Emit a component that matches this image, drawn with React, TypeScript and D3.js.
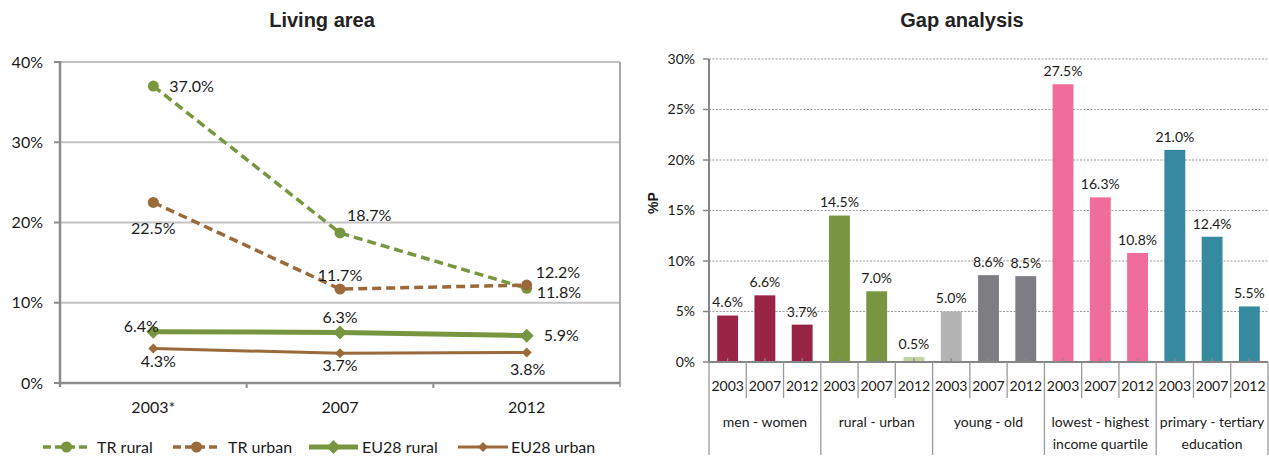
import React, { useEffect, useRef } from 'react';
import * as d3 from 'd3';

const W = 1269;
const H = 458;

// Living area (line chart)
const years = ['2003*', '2007', '2012'];
const trRural = [37.0, 18.7, 11.8];
const trUrban = [22.5, 11.7, 12.2];
const euRural = [6.4, 6.3, 5.9];
const euUrban = [4.3, 3.7, 3.8];
const lineTicks = [0, 10, 20, 30, 40];

// Gap analysis (bar chart)
const gapYears = ['2003', '2007', '2012'];
const gapGroups = ['men - women', 'rural - urban', 'young - old', 'lowest - highest|income quartile', 'primary - tertiary|education'];
const menWomen = [4.6, 6.6, 3.7];
const ruralUrban = [14.5, 7.0, 0.5];
const youngOld = [5.0, 8.6, 8.5];
const incomeGap = [27.5, 16.3, 10.8];
const educationGap = [21.0, 12.4, 5.5];
const barTicks = [0, 5, 10, 15, 20, 25, 30];

const LABEL_FONT = "Lato, 'Open Sans', sans-serif";
const TITLE_FONT = "'Liberation Sans', Arial, sans-serif";
const GREEN = '#77963f';
const BROWN = '#9a6a3a';

const App = () => {
    const svgRef = useRef<SVGSVGElement>(null);

    useEffect(() => {
        const svg = d3.select(svgRef.current);
        svg.selectAll('*').remove();

        // ---------- left: Living area ----------
        const left = svg.append('g');
        const x = d3.scaleBand().domain(years).range([60, 620]);
        const y = d3.scaleLinear().domain([0, 40]).range([383, 62]);
        const cx = (i: number) => (x(years[i]) as number) + x.bandwidth() / 2;

        left.append('text')
            .attr('x', 322).attr('y', 20).attr('dy', '0.35em')
            .attr('text-anchor', 'middle')
            .style('font', `bold 20px ${TITLE_FONT}`)
            .attr('fill', '#222')
            .text('Living area');

        // gridlines
        left.selectAll('line.grid')
            .data(lineTicks.slice(1))
            .join('line')
            .attr('x1', 60).attr('x2', 620)
            .attr('y1', d => y(d)).attr('y2', d => y(d))
            .attr('stroke', '#c3c3c3').attr('stroke-width', 2);
        left.append('line')
            .attr('x1', 620).attr('x2', 620).attr('y1', y(40)).attr('y2', y(0) + 4)
            .attr('stroke', '#a9a9a9').attr('stroke-width', 2);

        // axes
        left.append('line')
            .attr('x1', 60).attr('x2', 620).attr('y1', y(0)).attr('y2', y(0))
            .attr('stroke', '#8c8c8c').attr('stroke-width', 2.5);
        left.append('line')
            .attr('x1', 60).attr('x2', 60).attr('y1', y(40) - 1).attr('y2', y(0) + 4)
            .attr('stroke', '#8c8c8c').attr('stroke-width', 2.5);
        left.selectAll('line.ytick')
            .data(lineTicks)
            .join('line')
            .attr('x1', 54).attr('x2', 60)
            .attr('y1', d => y(d)).attr('y2', d => y(d))
            .attr('stroke', '#8c8c8c').attr('stroke-width', 2);
        left.selectAll('text.ytick')
            .data(lineTicks)
            .join('text')
            .attr('x', 43).attr('y', d => y(d)).attr('dy', '0.35em')
            .attr('text-anchor', 'end')
            .style('font', `16px ${LABEL_FONT}`)
            .attr('fill', '#1a1a1a')
            .text(d => `${d}%`);
        left.selectAll('line.xtick')
            .data(years.slice(1))
            .join('line')
            .attr('x1', d => x(d) as number).attr('x2', d => x(d) as number)
            .attr('y1', y(0)).attr('y2', y(0) + 5)
            .attr('stroke', '#8c8c8c').attr('stroke-width', 2);
        left.selectAll('text.xlab')
            .data(years)
            .join('text')
            .attr('x', (d, i) => cx(i)).attr('y', 407).attr('dy', '0.35em')
            .attr('text-anchor', 'middle')
            .style('font', `16px ${LABEL_FONT}`)
            .attr('fill', '#1a1a1a')
            .text(d => d);

        const series = [
            { name: 'TR rural', values: trRural, color: GREEN, dash: '9,5', width: 3.5, marker: 'circle', size: 5.5,
              labels: [[16, 0, 'start'], [7, -18, 'start'], [10, 4, 'start']] },
            { name: 'TR urban', values: trUrban, color: BROWN, dash: '9,5', width: 3.5, marker: 'circle', size: 5.5,
              labels: [[0, 26, 'middle'], [0, -14, 'middle'], [9, -13, 'start']] },
            { name: 'EU28 rural', values: euRural, color: GREEN, dash: null, width: 5, marker: 'diamond', size: 7,
              labels: [[-12, -5, 'middle'], [0, -15, 'middle'], [17, 0, 'start']] },
            { name: 'EU28 urban', values: euUrban, color: BROWN, dash: null, width: 3, marker: 'diamond', size: 5,
              labels: [[5, 13, 'middle'], [0, 12, 'middle'], [1, 17, 'middle']] },
        ];

        const line = d3.line<number>().x((d, i) => cx(i)).y(d => y(d));
        const drawMarker = (g: any, kind: string, mx: number, my: number, size: number, color: string) => {
            if (kind === 'circle') {
                g.append('circle').attr('cx', mx).attr('cy', my).attr('r', size).attr('fill', color);
            } else {
                g.append('path')
                    .attr('d', `M${mx},${my - size}L${mx + size},${my}L${mx},${my + size}L${mx - size},${my}Z`)
                    .attr('fill', color);
            }
        };

        series.forEach(s => {
            const g = left.append('g');
            g.append('path')
                .attr('d', line(s.values))
                .attr('fill', 'none')
                .attr('stroke', s.color)
                .attr('stroke-width', s.width)
                .attr('stroke-dasharray', s.dash)
                .attr('stroke-linecap', s.dash ? 'butt' : 'round');
            s.values.forEach((v, i) => drawMarker(g, s.marker, cx(i), y(v), s.size, s.color));
        });
        series.forEach(s => {
            s.values.forEach((v, i) => {
                const [dx, dy, anchor] = s.labels[i] as [number, number, string];
                left.append('text')
                    .attr('x', cx(i) + dx).attr('y', y(v) + dy).attr('dy', '0.35em')
                    .attr('text-anchor', anchor)
                    .style('font', `16px ${LABEL_FONT}`)
                    .attr('fill', '#1a1a1a')
                    .text(`${v.toFixed(1)}%`);
            });
        });

        // legend
        const legendItems = [
            { s: series[0], x1: 43, x2: 90, tx: 97 },
            { s: series[1], x1: 173, x2: 220, tx: 228 },
            { s: series[2], x1: 309, x2: 358, tx: 362 },
            { s: series[3], x1: 458, x2: 508, tx: 511 },
        ];
        legendItems.forEach(({ s, x1, x2, tx }) => {
            const g = left.append('g');
            g.append('line')
                .attr('x1', x1).attr('x2', x2).attr('y1', 447).attr('y2', 447)
                .attr('stroke', s.color).attr('stroke-width', s.width)
                .attr('stroke-dasharray', s.dash ? '8,4' : null);
            drawMarker(g, s.marker, (x1 + x2) / 2, 447, s.size, s.color);
            g.append('text')
                .attr('x', tx).attr('y', 447).attr('dy', '0.35em')
                .style('font', `16px ${LABEL_FONT}`)
                .attr('fill', '#1a1a1a')
                .text(s.name);
        });

        // ---------- right: Gap analysis ----------
        const right = svg.append('g');
        const groupValues = [menWomen, ruralUrban, youngOld, incomeGap, educationGap];
        const barColors = [
            ['#9a2446', '#9a2446', '#9a2446'],
            ['#77963f', '#77963f', '#c4d3a3'],
            ['#b3b3b3', '#7e7d83', '#7e7d83'],
            ['#f06c9b', '#f06c9b', '#f06c9b'],
            ['#368aa0', '#368aa0', '#368aa0'],
        ];
        const bars = groupValues.flatMap((vals, gi) =>
            vals.map((v, yi) => ({ key: `${gi}-${yi}`, group: gi, year: gapYears[yi], value: v, color: barColors[gi][yi] })));

        const xb = d3.scaleBand()
            .domain(bars.map(d => d.key))
            .range([709, 1268])
            .paddingInner(0.44)
            .paddingOuter(0.22);
        const yb = d3.scaleLinear().domain([0, 30]).range([362, 59]);
        const bx = (k: string) => (xb(k) as number) + xb.bandwidth() / 2;
        const edge = (i: number) => 709 + i * xb.step();

        right.append('text')
            .attr('x', 962).attr('y', 20).attr('dy', '0.35em')
            .attr('text-anchor', 'middle')
            .style('font', `bold 20px ${TITLE_FONT}`)
            .attr('fill', '#222')
            .text('Gap analysis');

        right.selectAll('line.grid')
            .data(barTicks.slice(1))
            .join('line')
            .attr('x1', 709).attr('x2', 1268)
            .attr('y1', d => yb(d)).attr('y2', d => yb(d))
            .attr('stroke', '#9a9a9a').attr('stroke-width', 1)
            .attr('stroke-dasharray', '2,1.5');

        right.selectAll('rect.bar')
            .data(bars)
            .join('rect')
            .attr('x', d => xb(d.key) as number)
            .attr('y', d => yb(d.value))
            .attr('width', xb.bandwidth())
            .attr('height', d => yb(0) - yb(d.value))
            .attr('fill', d => d.color);

        right.selectAll('line.bartick')
            .data(bars)
            .join('line')
            .attr('x1', d => bx(d.key)).attr('x2', d => bx(d.key))
            .attr('y1', yb(0) - 4).attr('y2', yb(0))
            .attr('stroke', '#8a8a8a').attr('stroke-width', 1.2);

        right.selectAll('text.val')
            .data(bars)
            .join('text')
            .attr('x', d => bx(d.key)).attr('y', d => yb(d.value) - 13).attr('dy', '0.35em')
            .attr('text-anchor', 'middle')
            .style('font', `14px ${LABEL_FONT}`)
            .attr('fill', '#1a1a1a')
            .text(d => `${d.value.toFixed(1)}%`);

        // axes
        right.append('line')
            .attr('x1', 709).attr('x2', 709).attr('y1', yb(30)).attr('y2', yb(0))
            .attr('stroke', '#868686').attr('stroke-width', 2);
        right.append('line')
            .attr('x1', 709).attr('x2', 1268).attr('y1', yb(0)).attr('y2', yb(0))
            .attr('stroke', '#868686').attr('stroke-width', 2);
        right.selectAll('line.ytick')
            .data(barTicks)
            .join('line')
            .attr('x1', 703).attr('x2', 709)
            .attr('y1', d => yb(d)).attr('y2', d => yb(d))
            .attr('stroke', '#868686').attr('stroke-width', 1.5);
        right.selectAll('text.ytick')
            .data(barTicks)
            .join('text')
            .attr('x', 695).attr('y', d => yb(d)).attr('dy', '0.35em')
            .attr('text-anchor', 'end')
            .style('font', `14px ${LABEL_FONT}`)
            .attr('fill', '#1a1a1a')
            .text(d => `${d}%`);
        right.append('text')
            .attr('transform', 'translate(653,203) rotate(-90)')
            .attr('dy', '0.35em')
            .attr('text-anchor', 'middle')
            .style('font', `bold 14px ${TITLE_FONT}`)
            .attr('fill', '#1a1a1a')
            .text('%P');

        // category axis: years and groups
        right.selectAll('line.sep')
            .data(d3.range(bars.length + 1))
            .join('line')
            .attr('x1', d => edge(d)).attr('x2', d => edge(d))
            .attr('y1', yb(0)).attr('y2', d => (d % 3 === 0 ? 455 : 398))
            .attr('stroke', '#9a9a9a').attr('stroke-width', 1.3);
        right.selectAll('text.year')
            .data(bars)
            .join('text')
            .attr('x', d => bx(d.key)).attr('y', 386).attr('dy', '0.35em')
            .attr('text-anchor', 'middle')
            .style('font', `14px ${LABEL_FONT}`)
            .attr('fill', '#1a1a1a')
            .text(d => d.year);
        gapGroups.forEach((gname, gi) => {
            const mid = (edge(gi * 3) + edge(gi * 3 + 3)) / 2;
            gname.split('|').forEach((ln, li) => {
                right.append('text')
                    .attr('x', mid).attr('y', 422 + li * 22).attr('dy', '0.35em')
                    .attr('text-anchor', 'middle')
                    .style('font', `14px ${LABEL_FONT}`)
                    .attr('fill', '#1a1a1a')
                    .text(ln);
            });
        });
    }, []);

    return (
        <svg ref={svgRef} width={W} height={H}
            style={{ position: 'absolute', left: 0, top: 0, background: '#fff' }}></svg>
    );
};

export default App;
